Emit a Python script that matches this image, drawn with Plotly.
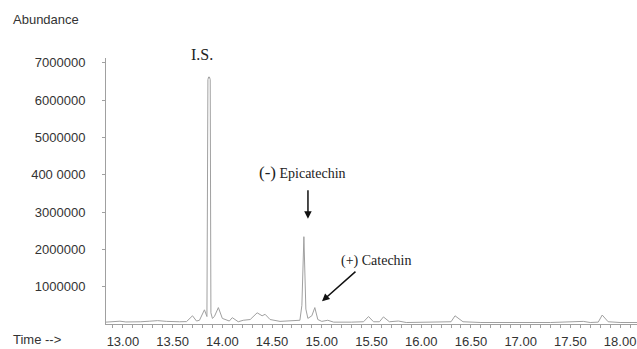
import plotly.graph_objects as go

# Chromatogram trace (time in min, abundance)
time = [12.83, 12.90, 12.97, 13.03, 13.10, 13.18, 13.27, 13.35, 13.44, 13.50, 13.57, 13.64,
        13.70, 13.74, 13.77, 13.82, 13.845, 13.855, 13.862, 13.870, 13.878, 13.885, 13.90,
        13.92, 13.96, 14.00, 14.07, 14.10, 14.16, 14.21, 14.28, 14.35, 14.40, 14.43, 14.48,
        14.58, 14.71, 14.78, 14.80, 14.82, 14.84, 14.86, 14.90, 14.93, 14.96, 15.00, 15.06,
        15.12, 15.30, 15.42, 15.47, 15.52, 15.58, 15.62, 15.68, 15.77, 15.85, 16.00, 16.20,
        16.30, 16.34, 16.42, 16.60, 17.00, 17.30, 17.63, 17.70, 17.78, 17.82, 17.88, 18.00, 18.17]
abundance = [50000, 60000, 75000, 55000, 50000, 60000, 75000, 90000, 70000, 60000, 60000, 65000,
             220000, 80000, 100000, 380000, 200000, 6550000, 6620000, 6620000, 6550000, 300000, 150000,
             200000, 440000, 150000, 80000, 170000, 60000, 100000, 120000, 300000, 220000, 260000, 120000,
             70000, 80000, 100000, 500000, 2340000, 400000, 150000, 220000, 440000, 120000, 70000, 100000,
             50000, 50000, 60000, 200000, 60000, 60000, 190000, 60000, 80000, 40000, 40000, 40000,
             60000, 220000, 60000, 40000, 40000, 40000, 70000, 40000, 50000, 240000, 60000, 40000, 40000]

y_tickvals = [1000000, 2000000, 3000000, 4000000, 5000000, 6000000, 7000000]
y_ticktext = ["1000000", "2000000", "3000000", "400 0000", "5000000", "6000000", "7000000"]

x_minor = [round(12.9 + 0.1 * i, 2) for i in range(53)]
x_labels = ["%.2f" % v if abs(v * 2 - round(v * 2)) < 1e-6 else "" for v in x_minor]

fig = go.Figure()
fig.add_trace(go.Scatter(x=time, y=abundance, mode="lines",
                         line=dict(color="#a0a0a0", width=1), showlegend=False,
                         hoverinfo="skip"))

axis_col = "#a0a0a0"
sans = "Liberation Sans, Arial, sans-serif"
tick_font = dict(family=sans, size=13, color="#333333")
serif = "Liberation Serif, Times New Roman, serif"

fig.update_layout(
    width=637, height=349,
    margin=dict(l=106, r=0, t=58, b=23),
    paper_bgcolor="white", plot_bgcolor="white",
    xaxis=dict(range=[12.83, 18.17], showgrid=False, zeroline=False, showline=True,
               linecolor=axis_col, linewidth=1, tickmode="array", tickvals=x_minor,
               ticktext=x_labels, ticks="outside", ticklen=3, tickcolor=axis_col,
               tickfont=tick_font, ticklabelstandoff=2),
    yaxis=dict(range=[0, 7130000], showgrid=False, zeroline=False, showline=True,
               linecolor=axis_col, linewidth=1, tickmode="array", tickvals=y_tickvals,
               ticktext=y_ticktext, ticks="outside", ticklen=3, tickcolor=axis_col,
               tickfont=tick_font, ticklabelstandoff=14),
)

annos = [
    dict(text="Abundance", xref="paper", yref="paper", x=-0.113, y=1.146,
         xanchor="center", yanchor="middle", showarrow=False,
         font=dict(family=sans, size=13, color="#333333")),
    dict(text="Time -->", xref="paper", yref="paper", x=-0.130, y=-0.058,
         xanchor="center", yanchor="middle", showarrow=False,
         font=dict(family=sans, size=13, color="#333333")),
    dict(text="I.S.", xref="x", yref="paper", x=13.795, y=1.015,
         xanchor="center", yanchor="middle", showarrow=False,
         font=dict(family=serif, size=16, color="#222222")),
    dict(text="<span style='font-size:17px'>(-)</span> Epicatechin", x=14.811, y=4070000,
         xanchor="center", yanchor="middle",
         showarrow=False, font=dict(family=serif, size=14, color="#222222")),
    dict(text="(+) Catechin", x=15.545, y=1700000, xanchor="center", yanchor="middle",
         showarrow=False, font=dict(family=serif, size=14, color="#222222")),
    dict(text="", x=14.861, y=2820000, ax=0, ay=-30, showarrow=True, arrowhead=2,
         arrowsize=1, arrowwidth=1.5, arrowcolor="#111111"),
    dict(text="", x=15.002, y=610000, ax=35, ay=-31, showarrow=True, arrowhead=2,
         arrowsize=1, arrowwidth=1.5, arrowcolor="#111111"),
]
fig.update_layout(annotations=annos)

fig.write_html("out.html")
